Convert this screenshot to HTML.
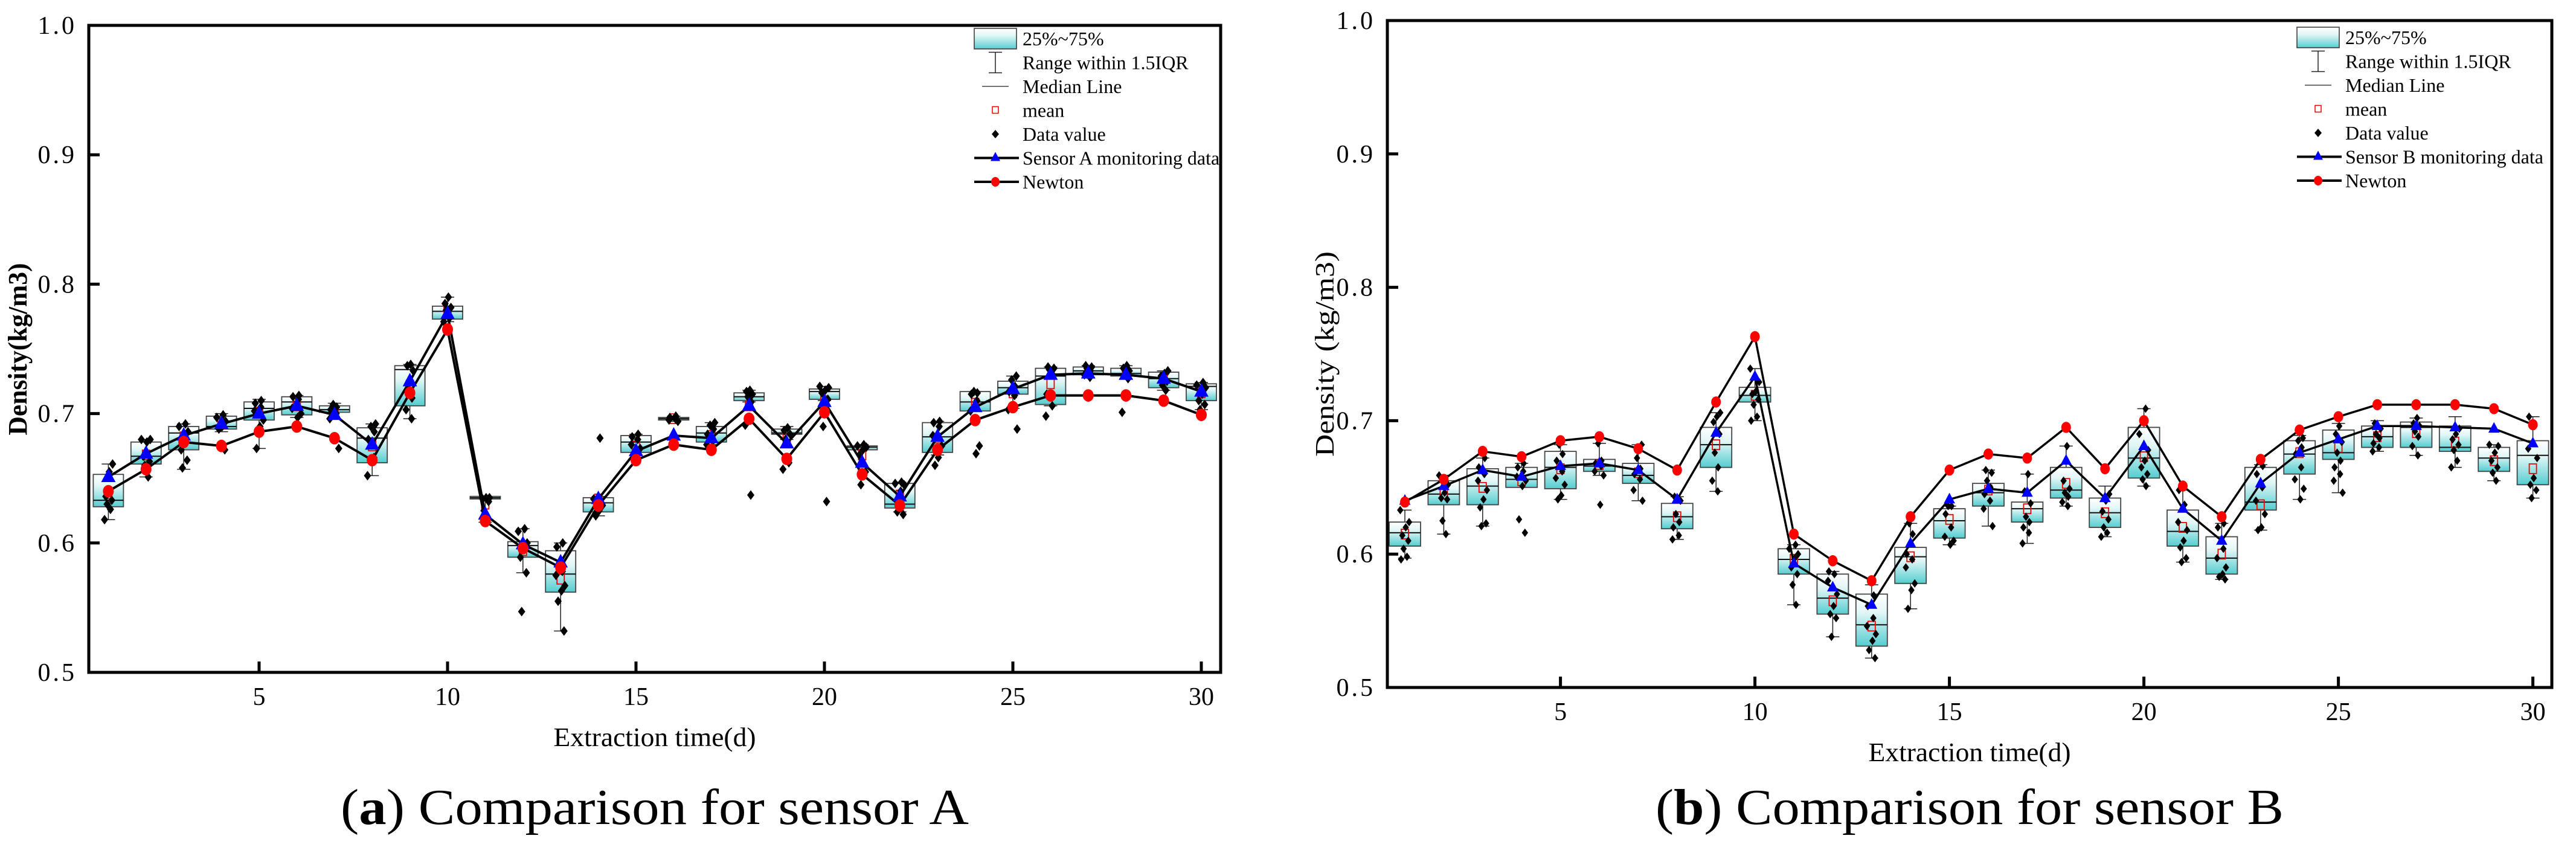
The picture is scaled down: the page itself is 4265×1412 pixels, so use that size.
<!DOCTYPE html>
<html><head><meta charset="utf-8">
<style>
html,body{margin:0;padding:0;background:#fff;}
svg{display:block;}
text{font-family:"Liberation Serif",serif;fill:#000;}
</style></head>
<body>
<svg id="fig" width="4265" height="1412" viewBox="0 0 4265 1412" xmlns="http://www.w3.org/2000/svg">
<defs>
<linearGradient id="boxGrad" x1="0" y1="0" x2="0" y2="1">
<stop offset="0" stop-color="#ffffff"/>
<stop offset="0.35" stop-color="#e2f6f6"/>
<stop offset="1" stop-color="#55cdd0"/>
</linearGradient>
</defs>
</svg>
<script>
// ---------- Panel A data ----------
const daysA = [1,2,3,4,5,6,7,8,9,10,11,12,13,14,15,16,17,18,19,20,21,22,23,24,25,26,27,28,29,30];
const sensorA = [0.651,0.669,0.683,0.692,0.700,0.706,0.699,0.676,0.725,0.777,0.622,0.599,0.585,0.634,0.671,0.683,0.681,0.706,0.677,0.709,0.662,0.636,0.682,0.705,0.719,0.730,0.731,0.730,0.727,0.717];
const newtonA = [0.640,0.657,0.678,0.675,0.686,0.690,0.681,0.664,0.716,0.765,0.617,0.596,0.581,0.629,0.664,0.676,0.672,0.696,0.665,0.701,0.653,0.629,0.672,0.695,0.705,0.714,0.714,0.714,0.710,0.699];
const q1A = [0.628,0.661,0.672,0.688,0.695,0.699,0.701,0.662,0.706,0.773,0.634,0.589,0.562,0.624,0.670,0.695,0.678,0.710,0.684,0.711,0.672,0.627,0.670,0.702,0.715,0.707,0.730,0.729,0.720,0.710];
const q3A = [0.653,0.678,0.690,0.698,0.709,0.713,0.706,0.689,0.737,0.783,0.636,0.601,0.594,0.635,0.683,0.697,0.690,0.716,0.688,0.719,0.675,0.646,0.693,0.717,0.725,0.735,0.736,0.735,0.732,0.723];
const medA = [0.633,0.667,0.685,0.690,0.704,0.709,0.703,0.681,0.734,0.779,0.635,0.598,0.576,0.631,0.678,0.696,0.685,0.713,0.685,0.717,0.674,0.630,0.682,0.709,0.720,0.729,0.733,0.731,0.727,0.721];
const meanA = [0.638,0.668,0.682,0.692,0.701,0.706,0.702,0.675,0.722,0.779,0.630,0.594,0.572,0.634,0.675,0.696,0.683,0.706,0.680,0.710,0.668,0.637,0.681,0.708,0.716,0.723,0.733,0.731,0.727,0.716];
const loA = [0.618,0.651,0.657,0.686,0.673,0.697,0.696,0.652,0.696,0.771,0.616,0.577,0.532,0.621,0.668,0.694,0.676,0.709,0.680,0.710,0.672,0.624,0.668,0.702,0.704,0.706,0.728,0.727,0.718,0.703];
const hiA = [0.661,0.680,0.692,0.700,0.711,0.714,0.708,0.692,0.738,0.790,0.636,0.611,0.600,0.636,0.684,0.698,0.693,0.718,0.690,0.721,0.676,0.647,0.694,0.717,0.729,0.736,0.737,0.737,0.733,0.724];
const ptsA = [
[0.618,0.626,0.630,0.633,0.636,0.655,0.661],[0.651,0.660,0.663,0.667,0.678,0.680,0.680],[0.658,0.664,0.672,0.680,0.686,0.690,0.692],
[0.672,0.688,0.690,0.694,0.697,0.699],[0.673,0.690,0.695,0.702,0.705,0.708,0.710],[0.697,0.700,0.704,0.711,0.713,0.714],
[0.673,0.696,0.700,0.703,0.705,0.707],[0.652,0.666,0.680,0.686,0.690,0.692],[0.696,0.703,0.712,0.719,0.733,0.737,0.738],
[0.771,0.774,0.780,0.782,0.785,0.790],[0.616,0.625,0.632,0.634,0.635,0.635],[0.547,0.577,0.589,0.598,0.600,0.609,0.611],
[0.532,0.555,0.563,0.567,0.575,0.578,0.597,0.600],[0.621,0.625,0.629,0.634,0.681],[0.668,0.673,0.676,0.680,0.682,0.684],
[0.694,0.695,0.696,0.697,0.698],[0.676,0.679,0.684,0.688,0.691,0.693],[0.637,0.691,0.709,0.713,0.715,0.717,0.718],
[0.657,0.662,0.680,0.684,0.687,0.689],[0.632,0.690,0.711,0.716,0.718,0.720,0.721],[0.645,0.655,0.668,0.672,0.674,0.675,0.676],
[0.622,0.624,0.640,0.645,0.646,0.647],[0.660,0.666,0.675,0.683,0.690,0.693,0.694],[0.669,0.675,0.702,0.710,0.715,0.716,0.717],
[0.688,0.703,0.714,0.717,0.721,0.726,0.729],[0.698,0.706,0.715,0.730,0.734,0.735,0.736],[0.728,0.730,0.733,0.735,0.736,0.737],
[0.701,0.727,0.730,0.733,0.735,0.737],[0.718,0.722,0.725,0.729,0.731,0.733],[0.703,0.707,0.710,0.715,0.720,0.722,0.724]];

// ---------- Panel B data ----------
const daysB = [1,2,3,4,5,6,7,8,9,10,11,12,13,14,15,16,17,18,19,20,21,22,23,24,25,26,27,28,29,30];
const sensorB = [0.640,0.651,0.663,0.658,0.666,0.668,0.663,0.641,0.691,0.733,0.593,0.575,0.562,0.608,0.641,0.649,0.646,0.670,0.642,0.681,0.634,0.610,0.653,0.676,0.686,0.696,0.696,0.695,0.694,0.683];
const newtonB = [0.639,0.656,0.677,0.673,0.685,0.688,0.679,0.663,0.714,0.763,0.615,0.595,0.580,0.628,0.663,0.675,0.672,0.695,0.664,0.700,0.651,0.628,0.671,0.693,0.703,0.712,0.712,0.712,0.709,0.697];
const q1B = [0.606,0.637,0.637,0.650,0.649,0.662,0.653,0.619,0.665,0.714,0.585,0.555,0.531,0.578,0.612,0.636,0.624,0.642,0.620,0.657,0.606,0.585,0.633,0.660,0.671,0.680,0.680,0.677,0.662,0.652];
const q3B = [0.624,0.655,0.664,0.665,0.677,0.671,0.668,0.638,0.695,0.725,0.604,0.585,0.570,0.605,0.634,0.653,0.639,0.665,0.642,0.695,0.633,0.613,0.665,0.685,0.693,0.696,0.699,0.696,0.680,0.685];
const medB = [0.616,0.645,0.651,0.656,0.665,0.666,0.659,0.628,0.682,0.719,0.596,0.567,0.547,0.598,0.625,0.646,0.634,0.648,0.631,0.672,0.617,0.597,0.639,0.675,0.676,0.688,0.695,0.680,0.672,0.674];
const meanB = [0.615,0.645,0.650,0.655,0.664,0.667,0.661,0.628,0.682,0.719,0.596,0.565,0.546,0.598,0.626,0.648,0.634,0.653,0.631,0.673,0.620,0.600,0.637,0.676,0.680,0.688,0.691,0.684,0.670,0.664];
const loB = [0.597,0.615,0.621,0.651,0.641,0.659,0.640,0.611,0.647,0.700,0.562,0.538,0.522,0.559,0.607,0.621,0.608,0.636,0.613,0.651,0.594,0.581,0.618,0.641,0.646,0.677,0.674,0.665,0.655,0.642];
const hiB = [0.633,0.659,0.672,0.668,0.682,0.683,0.682,0.643,0.706,0.739,0.607,0.587,0.577,0.623,0.636,0.663,0.660,0.681,0.651,0.709,0.648,0.623,0.667,0.689,0.698,0.700,0.702,0.703,0.682,0.703];
const ptsB = [
[0.596,0.598,0.604,0.610,0.614,0.620,0.624,0.633],[0.615,0.625,0.641,0.642,0.646,0.652,0.659],[0.621,0.623,0.635,0.641,0.648,0.655,0.660,0.665,0.672],
[0.616,0.626,0.651,0.655,0.658,0.662,0.665,0.668],[0.641,0.644,0.652,0.657,0.662,0.670,0.675,0.682],[0.637,0.659,0.662,0.666,0.668,0.670,0.683],
[0.640,0.648,0.656,0.660,0.664,0.672,0.682],[0.611,0.614,0.620,0.624,0.630,0.640,0.643],[0.647,0.655,0.665,0.676,0.690,0.699,0.703,0.706],
[0.700,0.703,0.712,0.716,0.720,0.722,0.729,0.739],[0.562,0.577,0.585,0.590,0.597,0.600,0.604,0.607],[0.538,0.552,0.555,0.561,0.570,0.580,0.585,0.587],
[0.522,0.528,0.535,0.540,0.546,0.552,0.561,0.569],[0.559,0.573,0.578,0.590,0.596,0.600,0.615,0.623],[0.607,0.610,0.613,0.620,0.630,0.636,0.636],
[0.621,0.634,0.640,0.645,0.650,0.655,0.661,0.663],[0.608,0.616,0.620,0.624,0.628,0.638,0.647,0.660],[0.636,0.639,0.643,0.646,0.649,0.655,0.681],
[0.613,0.616,0.620,0.626,0.632,0.640,0.645],[0.651,0.656,0.660,0.665,0.670,0.678,0.690,0.709],[0.594,0.597,0.605,0.610,0.618,0.624,0.637,0.648],
[0.581,0.583,0.585,0.590,0.597,0.604,0.620,0.623],[0.618,0.620,0.630,0.640,0.650,0.660,0.666],[0.641,0.649,0.656,0.665,0.675,0.680,0.685,0.687],
[0.646,0.655,0.660,0.665,0.670,0.676,0.684,0.690,0.696],[0.677,0.680,0.683,0.687,0.690,0.694,0.698],[0.674,0.681,0.688,0.692,0.696,0.698,0.702],
[0.665,0.670,0.678,0.682,0.686,0.690,0.694],[0.655,0.661,0.665,0.670,0.676,0.681,0.682],[0.642,0.648,0.652,0.657,0.672,0.679,0.696,0.703]];

const yTicks = [0.5,0.6,0.7,0.8,0.9,1.0];
const yTickLabels = ["0.5","0.6","0.7","0.8","0.9","1.0"];
const xTicks = [5,10,15,20,25,30];
const xTickLabels = ["5","10","15","20","25","30"];

const NS = "http://www.w3.org/2000/svg";
const svg = document.getElementById('fig');
function mk(parent, tag, attrs, txt){
  const e = document.createElementNS(NS, tag);
  for (const k in attrs) e.setAttribute(k, attrs[k]);
  if (txt !== undefined) e.textContent = txt;
  parent.appendChild(e);
  return e;
}
const jit = [-9,5,-3,8,-6,2,10,-11,4];

function panel(cfg){
  const g = mk(svg,'g',{});
  
  
  const X = d => cfg.x0 + (d - 1) * cfg.dx;
  const Y = v => cfg.bottom - (v - 0.5) * cfg.py;
  const L = cfg.left, R = cfg.right, T = cfg.bottom - 0.5 * cfg.py, B = cfg.bottom;

  // boxes
  const bg = mk(g,'g',{});
  
  
  cfg.days.forEach((d,i)=>{
    const x = X(d);
    const w = mk(bg,'line',{x1:x,x2:x,y1:Y(cfg.lo[i]),y2:Y(cfg.hi[i]),stroke:'#222','stroke-width':1.5});
    
    
    [cfg.lo[i],cfg.hi[i]].forEach(v=>{
      const c = mk(bg,'line',{x1:x-11,x2:x+11,y1:Y(v),y2:Y(v),stroke:'#222','stroke-width':1.5});
      
      
    });
    const r = mk(bg,'rect',{x:x-cfg.bw/2,y:Y(cfg.q3[i]),width:cfg.bw,height:Math.max(2,Y(cfg.q1[i])-Y(cfg.q3[i])),fill:'url(#boxGrad)',stroke:'#444','stroke-width':1.8});
    
    
    const m = mk(bg,'line',{x1:x-cfg.bw/2,x2:x+cfg.bw/2,y1:Y(cfg.med[i]),y2:Y(cfg.med[i]),stroke:'#111','stroke-width':2});
    
    
    const mn = mk(bg,'rect',{x:x-6,y:Y(cfg.mean[i])-8,width:12,height:16,fill:'none',stroke:'#e00','stroke-width':1.8});
    
    
  });
  // data points
  const pg = mk(g,'g',{});
  
  
  cfg.days.forEach((d,i)=>{
    cfg.pts[i].forEach((v,j)=>{
      const x = X(d) + jit[(j + i) % jit.length] * 0.7, y = Y(v), s = cfg.ds;
      const p = mk(pg,'polygon',{points:`${x},${y-s} ${x+s*0.75},${y} ${x},${y+s} ${x-s*0.75},${y}`,fill:'#000'});
      
      
    });
  });
  // lines
  const lineS = cfg.days.map((d,i)=>`${X(d)},${Y(cfg.sensor[i])}`).join(' ');
  const lineN = cfg.days.map((d,i)=>`${X(d)},${Y(cfg.newton[i])}`).join(' ');
  const pl1 = mk(g,'polyline',{points:lineS,fill:'none',stroke:'#000','stroke-width':cfg.lw,'stroke-linejoin':'round'});
  
  
  const pl2 = mk(g,'polyline',{points:lineN,fill:'none',stroke:'#000','stroke-width':cfg.lw,'stroke-linejoin':'round'});
  
  
  cfg.days.forEach((d,i)=>{
    const x = X(d), y = Y(cfg.sensor[i]), s = cfg.ts;
    const t = mk(g,'polygon',{points:`${x},${y-s} ${x+s*0.85},${y+s*0.6} ${x-s*0.85},${y+s*0.6}`,fill:'#0000ff'});
    
    
    const c = mk(g,'ellipse',{cx:x,cy:Y(cfg.newton[i]),rx:cfg.cr,ry:cfg.cr*1.15,fill:'#ff0000'});
    
    
  });
  // axes frame
  const fr = mk(g,'rect',{x:L,y:T,width:R-L,height:B-T,fill:'none',stroke:'#000','stroke-width':5});
  
  
  yTicks.forEach((v,i)=>{
    if (v > 0.5 && v < 1.0) {
      const tk = mk(g,'line',{x1:L,x2:L+18,y1:Y(v),y2:Y(v),stroke:'#000','stroke-width':5});
      
      
    }
    const tl = mk(g,'text',{x:L-20,y:Y(v)+14,'text-anchor':'end','font-size':42,'letter-spacing':4},yTickLabels[i]);
    
    
  });
  xTicks.forEach((d,i)=>{
    const tk = mk(g,'line',{x1:X(d),x2:X(d),y1:B,y2:B-18,stroke:'#000','stroke-width':5});
    
    
    const tl = mk(g,'text',{x:X(d),y:B+54,'text-anchor':'middle','font-size':42},xTickLabels[i]);
    
    
  });
  const xt = mk(g,'text',{x:(L+R)/2,y:B+122,'text-anchor':'middle','font-size':44,textLength:335,lengthAdjust:'spacingAndGlyphs'},'Extraction time(d)');
  
  
  const yt = mk(g,'text',{x:0,y:0,'text-anchor':'middle','font-size':44,'font-weight':cfg.ybold?'bold':'normal',textLength:cfg.ylen,lengthAdjust:'spacingAndGlyphs',transform:`translate(${cfg.ytx},${cfg.yty}) rotate(-90)`},cfg.ytitle);
  
  
  const cap = mk(g,'text',{x:(L+R)/2,y:1364,'text-anchor':'middle','font-size':84,textLength:1040,lengthAdjust:'spacingAndGlyphs'});
  
  
  mk(cap,'tspan',{},'(');
  mk(cap,'tspan',{'font-weight':'bold'},cfg.letter);
  mk(cap,'tspan',{},') ' + cfg.caption);

  // legend
  const lg = mk(g,'g',{'font-size':32});
  
  
  const lx = cfg.legX, ly = cfg.legY, rs = 39.5, tx = lx + 80, cx = lx + 35;
  const rows = ['25%~75%','Range within 1.5IQR','Median Line','mean','Data value',cfg.sensorName,'Newton'];
  rows.forEach((t,i)=>{
    const tt = mk(lg,'text',{x:tx,y:ly+i*rs+11},t);
    
    
  });
  const lb = mk(lg,'rect',{x:lx,y:ly-17,width:70,height:34,fill:'url(#boxGrad)',stroke:'#333','stroke-width':1.5});
  
  
  let y1 = ly + rs;
  mk(lg,'line',{x1:cx,x2:cx,y1:y1-17,y2:y1+17,stroke:'#222','stroke-width':1.5});
  mk(lg,'line',{x1:cx-11,x2:cx+11,y1:y1-17,y2:y1-17,stroke:'#222','stroke-width':1.5});
  mk(lg,'line',{x1:cx-11,x2:cx+11,y1:y1+17,y2:y1+17,stroke:'#222','stroke-width':1.5});
  y1 = ly + 2*rs;
  mk(lg,'line',{x1:cx-22,x2:cx+22,y1:y1,y2:y1,stroke:'#222','stroke-width':1.2});
  y1 = ly + 3*rs;
  mk(lg,'rect',{x:cx-5,y:y1-6,width:10,height:11,fill:'none',stroke:'#e00','stroke-width':1.5});
  y1 = ly + 4*rs;
  mk(lg,'polygon',{points:`${cx},${y1-7} ${cx+6},${y1} ${cx},${y1+7} ${cx-6},${y1}`,fill:'#000'});
  y1 = ly + 5*rs;
  mk(lg,'line',{x1:lx,x2:lx+74,y1:y1,y2:y1,stroke:'#000','stroke-width':4});
  mk(lg,'polygon',{points:`${cx},${y1-10} ${cx+8},${y1+5} ${cx-8},${y1+5}`,fill:'#0000ff'});
  y1 = ly + 6*rs;
  mk(lg,'line',{x1:lx,x2:lx+74,y1:y1,y2:y1,stroke:'#000','stroke-width':4});
  mk(lg,'ellipse',{cx:cx,cy:y1,rx:7,ry:8,fill:'#ff0000'});
}

panel({id:'sensor-a',days:daysA,sensor:sensorA,newton:newtonA,q1:q1A,q3:q3A,med:medA,mean:meanA,lo:loA,hi:hiA,pts:ptsA,
  x0:179.4,dx:62.4,bottom:1113,py:2142,left:147,right:2021,bw:50,ds:8,ts:14,cr:9,lw:4,
  ytitle:'Density(kg/m3)',ybold:true,ylen:285,ytx:44,yty:578,letter:'a',caption:'Comparison for sensor A',
  sensorName:'Sensor A monitoring data',legX:1613,legY:64});
panel({id:'sensor-b',days:daysB,sensor:sensorB,newton:newtonB,q1:q1B,q3:q3B,med:medB,mean:meanB,lo:loB,hi:hiB,pts:ptsB,
  x0:2326,dx:64.4,bottom:1138,py:2208,left:2297,right:4225,bw:52,ds:7,ts:11,cr:8,lw:3.5,
  ytitle:'Density (kg/m3)',ybold:false,ylen:340,ytx:2208,yty:586,letter:'b',caption:'Comparison for sensor B',
  sensorName:'Sensor B monitoring data',legX:3803,legY:62});
</script>
</body></html>
